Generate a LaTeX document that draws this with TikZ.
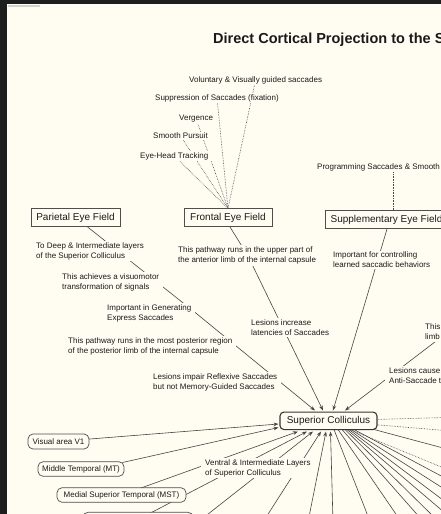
\documentclass[tikz,border=0pt]{standalone}
\usepackage{fontspec}
\setmainfont{Liberation Sans}
\usetikzlibrary{arrows.meta}
\definecolor{bgc}{HTML}{FFFCF2}
\definecolor{darkc}{HTML}{1E1E1E}
\definecolor{linec}{HTML}{454545}
\definecolor{txtc}{HTML}{1A1A1A}
\definecolor{boxc}{HTML}{4E4E4E}
\pgfdeclarelayer{back}
\pgfdeclarelayer{mid}
\pgfsetlayers{back,mid,main}
\begin{document}
\begin{tikzpicture}[x=1pt,y=-1pt,
  lbl/.style={fill=bgc, inner xsep=4pt, inner ysep=1.5pt, align=left, anchor=west, text=txtc, font=\fontsize{8}{10}\selectfont},
  bigbox/.style={draw=boxc, line width=0.8pt, fill=bgc, text=txtc, font=\fontsize{10}{12}\selectfont, minimum height=18pt, inner sep=0pt},
  pill/.style={draw=boxc, line width=0.7pt, fill=bgc, rounded corners=5pt, text=txtc, font=\fontsize{8}{10}\selectfont, minimum height=14.5pt, inner sep=0pt},
  conn/.style={draw=linec, line width=0.6pt},
  dots/.style={draw=linec, line width=0.6pt, densely dotted},
  arr/.style={conn, -{Stealth[length=5pt,width=3.6pt]}},
]
\useasboundingbox (0,0) rectangle (441,514);
\begin{pgfonlayer}{back}
\fill[darkc] (0,0) rectangle (441,514);
\fill[bgc] (7,4) rectangle (441,514);
\fill[gray!35] (8,4.5) rectangle (40,6.5);
\end{pgfonlayer}

\begin{scope}
\clip (0,0) rectangle (441,514);
\node[anchor=base west, inner sep=0pt, font=\fontsize{14.5}{17}\selectfont\bfseries, text=txtc] (title) at (213,43.5) {Direct Cortical Projection to the Superior Colliculus};

% upper labels of the frontal eye field
\node[lbl] (vol) at (185,80) {Voluntary \& Visually guided saccades};
\node[lbl] (supp) at (151,98) {Suppression of Saccades (fixation)};
\node[lbl] (verg) at (175,119) {Vergence};
\node[lbl] (smooth) at (149,136) {Smooth Pursuit};
\node[lbl] (eht) at (136,156) {Eye-Head Tracking};
\node[lbl] (prog) at (313,167) {Programming Saccades \& Smooth Pursuit};

% eye fields
\node[bigbox, minimum width=89pt] (pef) at (75.5,217.8) {Parietal Eye Field};
\node[bigbox, minimum width=88pt] (fef) at (228,217.8) {Frontal Eye Field};
\node[bigbox, minimum width=123pt] (sef) at (386.5,219.8) {Supplementary Eye Field};

% linking phrases
\node[lbl] (todeep) at (32,251) {To Deep \& Intermediate layers\\of the Superior Colliculus};
\node[lbl] (achieve) at (58,282.5) {This achieves a visuomotor\\transformation of signals};
\node[lbl] (express) at (103,313.5) {Important in Generating\\Express Saccades};
\node[lbl] (posterior) at (64,346.5) {This pathway runs in the most posterior region\\of the posterior limb of the internal capsule};
\node[lbl] (impair) at (149,382) {Lesions impair Reflexive Saccades\\but not Memory-Guided Saccades};
\node[lbl] (upper) at (174,255.5) {This pathway runs in the upper part of\\the anterior limb of the internal capsule};
\node[lbl] (increase) at (247,327.8) {Lesions increase\\latencies of Saccades};
\node[lbl] (learned) at (329,260) {Important for controlling\\learned saccadic behaviors};
\node[lbl] (limb) at (421,332) {This pathway runs in the\\limb of the internal capsule};
\node[lbl] (cause) at (385,375.5) {Lesions cause deficits in\\Anti-Saccade tasks};
\node[lbl] (ventral) at (201,468) {Ventral \& Intermediate Layers\\of Superior Colliculus};

% superior colliculus and cortical areas
\node[pill, rounded corners=4pt, line width=1.1pt, draw=boxc!70!black, font=\fontsize{10}{12}\selectfont, minimum width=97pt, minimum height=17.5pt] (sc) at (328.5,420.8) {Superior Colliculus};
\node[pill, minimum width=61pt, minimum height=15pt] (v1) at (58.5,441.5) {Visual area V1};
\node[pill, minimum width=86pt] (mt) at (81,469) {Middle Temporal (MT)};
\node[pill, minimum width=129pt] (mst) at (121.5,495) {Medial Superior Temporal (MST)};
\node[pill, minimum width=110pt] (lowbox) at (138,519.5) {};
\end{scope}

\coordinate (px) at (393,0);
\coordinate (pefout) at (87,226.5);
\coordinate (pefbend) at (197,314);
\coordinate (fefout) at (230,227);
\coordinate (fefbend) at (248,256);
\coordinate (sefout) at (387,229);
\coordinate (limbin) at (490,300);
\coordinate (mtout) at (122.5,462.5);
\coordinate (inA) at (278.5,424);
\coordinate (inB) at (278.5,427.5);

\begin{pgfonlayer}{mid}
\clip (0,0) rectangle (441,514);
% dotted functions of the FEF and SEF
\draw[dots] (vol.center) -- (fef.north);
\draw[dots] (supp.center) -- (fef.north);
\draw[dots] (verg.center) -- (fef.north);
\draw[dots] (smooth.center) -- (fef.north);
\draw[dots] (eht.center) -- (fef.north);
\draw[dots] (prog.south -| px) -- (sef.north -| px);

% eye field pathways to the SC
\draw[arr] (pefout) -- (pefbend) -- (315,410.5);
\draw[arr] (fefout) -- (fefbend) -- (323,410.5);
\draw[arr] (sefout) -- (333,410.5);
\draw[arr] (limbin) -- (345,410.5);

% cortical areas to the SC
\draw[arr] (v1.center) -- (inA);
\draw[arr] (mtout) -- (inB);
\draw[arr] (mst.center) -- (298,431.5);
\draw[arr] (lowbox.center) -- (307,431.5);
\draw[arr] (198,522) -- (313,431.5);
\draw[arr] (263,522) -- (321,431.5);
\draw[arr] (308,522) -- (326,431.5);
\draw[arr] (333,522) -- (330.5,431.5);

% SC outputs
\draw[dots] (sc.center) -- (445,417.5);
\draw[dots] (sc.center) -- (445,430.5);
\draw[conn] (374,429.5) -- (445,448.5);
\draw[dots] (350,429.5) -- (445,468.5);
\draw[conn] (334,429.5) -- (369.5,520);
\draw[conn] (338,429.5) -- (400,520);
\draw[conn] (342,429.5) -- (422,520);
\draw[conn] (345,429.5) -- (437,520);
\draw[conn] (347,429.5) -- (445,513);
\draw[conn] (349,429.5) -- (445,501.5);
\draw[conn] (351,429.5) -- (445,489.5);
\draw[conn] (354,429.5) -- (445,478);
\end{pgfonlayer}
\end{tikzpicture}
\end{document}
